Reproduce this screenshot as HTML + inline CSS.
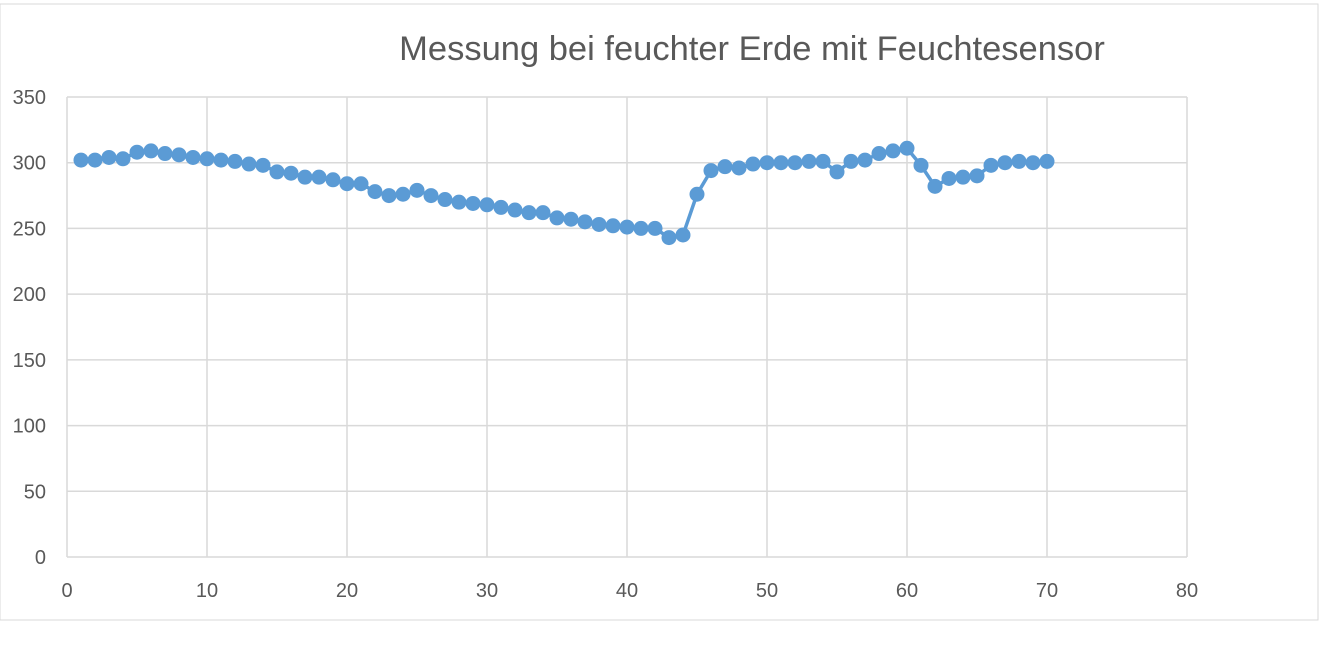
<!DOCTYPE html>
<html><head><meta charset="utf-8"><style>
body{margin:0;background:#fff;}
svg{display:block;font-family:"Liberation Sans",sans-serif;}
</style></head><body>
<svg id="chart" width="1321" height="648">
<rect x="0" y="4" width="1318" height="616" fill="#fff" stroke="#d9d9d9"/>
<text x="752" y="60" text-anchor="middle" font-size="34.5" fill="#595959">Messung bei feuchter Erde mit Feuchtesensor</text>
<g id="grid"></g><g id="ticks"></g><g id="series"></g>
</svg>
<script>
const xTicks=[0,10,20,30,40,50,60,70,80];
const yTicks=[0,50,100,150,200,250,300,350];
const xValues=[];for(let i=1;i<=70;i++)xValues.push(i);
const yValues=[302,302,304,303,308,309,307,306,304,303,302,301,299,298,293,292,289,289,287,284,284,278,275,276,279,275,272,270,269,268,266,264,262,262,258,257,255,253,252,251,250,250,243,245,276,294,297,296,299,300,300,300,301,301,293,301,302,307,309,311,298,282,288,289,290,298,300,301,300,301];
const L=67,R=1187,T=97,B=557;
const xs=v=>L+(v-0)/(80-0)*(R-L);
const ys=v=>B-(v-0)/(350-0)*(B-T);
const NS="http://www.w3.org/2000/svg";
const grid=document.getElementById('grid'),ticks=document.getElementById('ticks'),ser=document.getElementById('series');
function mk(tag,at,p){const e=document.createElementNS(NS,tag);for(const k in at)e.setAttribute(k,at[k]);p.appendChild(e);return e;}
yTicks.forEach(v=>{
 const l=mk('line',{x1:L,x2:R,y1:ys(v),y2:ys(v),stroke:'#d9d9d9','stroke-width':1.5},grid);
 
 
 const t=mk('text',{x:L-21,y:ys(v)+7,'text-anchor':'end','font-size':20,fill:'#595959'},ticks);
 t.textContent=v;
 
 
});
xTicks.forEach(v=>{
 const l=mk('line',{x1:xs(v),x2:xs(v),y1:T,y2:B,stroke:'#d9d9d9','stroke-width':1.5},grid);
 
 
 const t=mk('text',{x:xs(v),y:B+40,'text-anchor':'middle','font-size':20,fill:'#595959'},ticks);
 t.textContent=v;
 
 
});
const pl=mk('polyline',{points:xValues.map((x,i)=>xs(x)+','+ys(yValues[i])).join(' '),fill:'none',stroke:'#5b9bd5','stroke-width':3.5},ser);


xValues.forEach((x,i)=>{
 const c=mk('circle',{cx:xs(x),cy:ys(yValues[i]),r:7.5,fill:'#5b9bd5'},ser);
 
 
});
</script>
</body></html>
